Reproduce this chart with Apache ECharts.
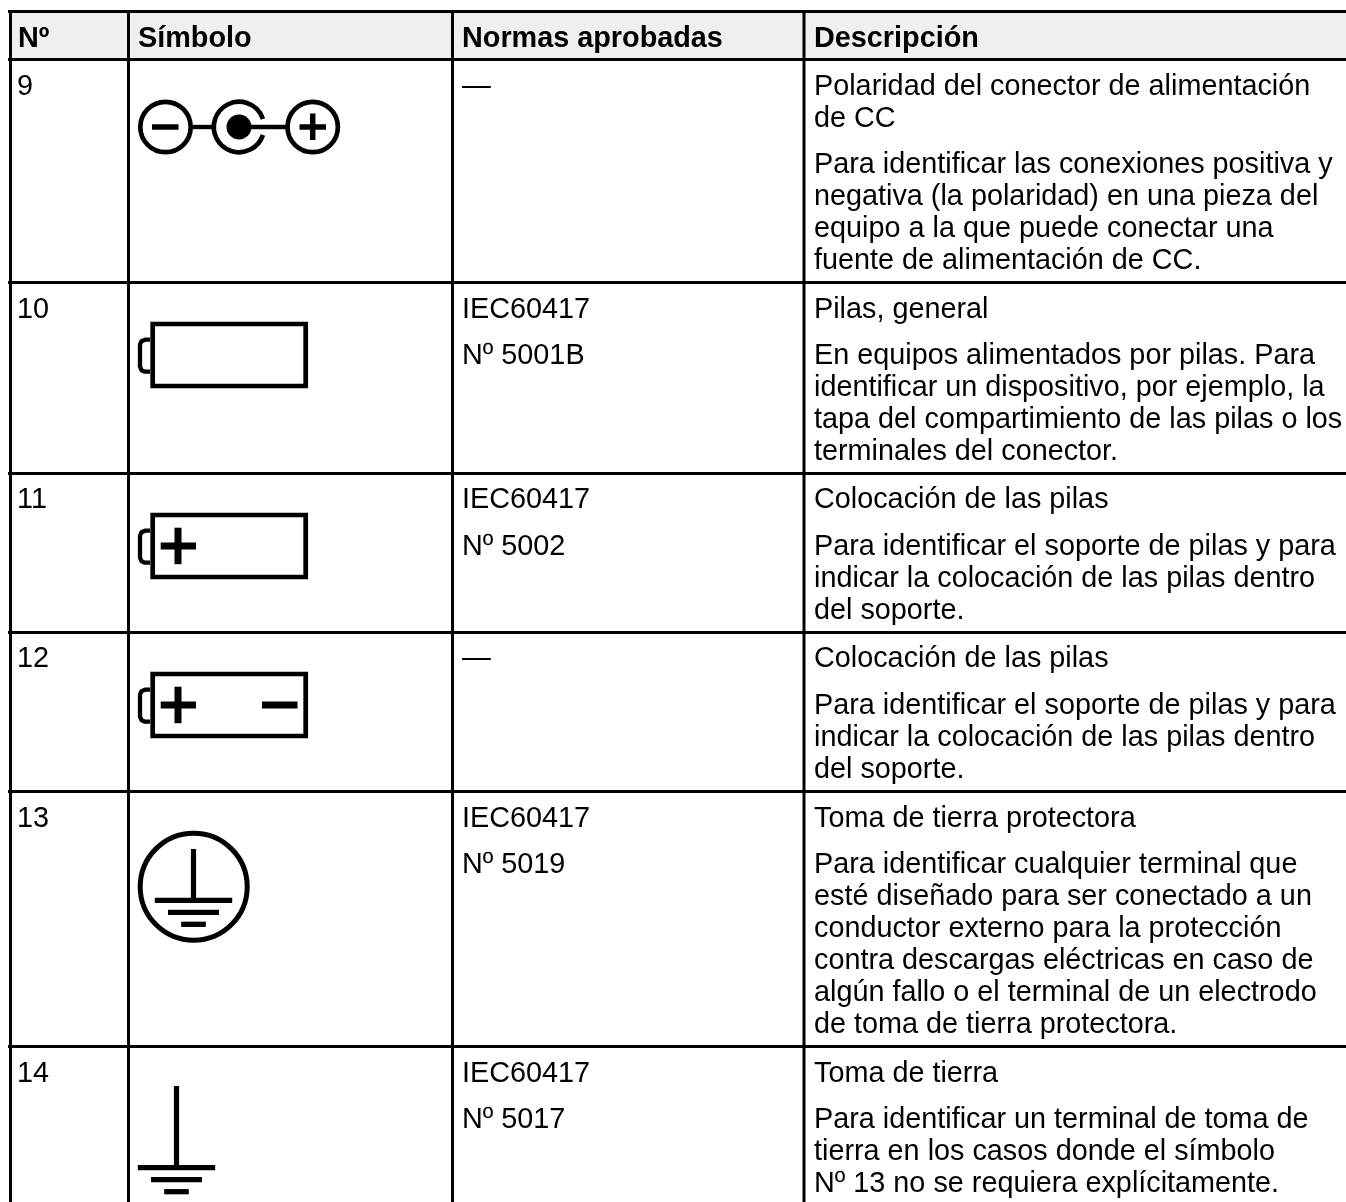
<!DOCTYPE html>
<html><head><meta charset="utf-8">
<style>html,body{margin:0;padding:0;background:#fff}#c{width:1346px;height:1202px}</style>
<script src="https://cdn.jsdelivr.net/npm/echarts@6/dist/echarts.min.js"></script></head>
<body><div id="c"></div>
<script>
const headers = ['Nº','Símbolo','Normas aprobadas','Descripción'];
const numbers = ['9','10','11','12','13','14'];
const standards = [['—'],['IEC60417','Nº 5001B'],['IEC60417','Nº 5002'],['—'],['IEC60417','Nº 5019'],['IEC60417','Nº 5017']];
const descriptions = [
 ['Polaridad del conector de alimentación','de CC','Para identificar las conexiones positiva y','negativa (la polaridad) en una pieza del','equipo a la que puede conectar una','fuente de alimentación de CC.'],
 ['Pilas, general','En equipos alimentados por pilas. Para','identificar un dispositivo, por ejemplo, la','tapa del compartimiento de las pilas o los','terminales del conector.'],
 ['Colocación de las pilas','Para identificar el soporte de pilas y para','indicar la colocación de las pilas dentro','del soporte.'],
 ['Colocación de las pilas','Para identificar el soporte de pilas y para','indicar la colocación de las pilas dentro','del soporte.'],
 ['Toma de tierra protectora','Para identificar cualquier terminal que','esté diseñado para ser conectado a un','conductor externo para la protección','contra descargas eléctricas en caso de','algún fallo o el terminal de un electrodo','de toma de tierra protectora.'],
 ['Toma de tierra','Para identificar un terminal de toma de','tierra en los casos donde el símbolo','Nº 13 no se requiera explícitamente.']
];

// layout
const W = 1346, H = 1202, FS = 28.8, FSB = 28.8, FONT = '"Liberation Sans", Arial, sans-serif';
const colX = [10.5, 128.5, 452.5, 804];
const textX = [18, 138, 462, 814];
const topY = 11.5, headY = 59.5, rowY = [282.5, 473.5, 632.5, 791.5, 1046.5];
const headBase = 46.5;
const descBase = [
 [95,127,173,205,237,269],
 [318,364,396,428,460],
 [508,555,587,619],
 [667,714,746,778],
 [827,873,905,937,969,1001,1033],
 [1082,1128,1160,1192]
];
const stdBase = [[95],[318,364],[508,555],[667],[827,873],[1082,1128]];

const g = [];
const txt = (s, x, base, bold) => g.push({type:'text', x, y: base - 7.5, silent:true, style:{
  text:s, fill:'#000', font:(bold?'bold '+FSB:FS)+'px '+FONT, textAlign:'left', verticalAlign:'middle'}});
const line = (x1,y1,x2,y2,w,cap) => g.push({type:'line', silent:true, shape:{x1,y1,x2,y2}, style:{stroke:'#000', lineWidth:w, lineCap:cap||'butt', fill:null}});
const ring = (cx,cy,r,w) => g.push({type:'circle', silent:true, shape:{cx,cy,r}, style:{stroke:'#000', lineWidth:w, fill:'none'}});

g.push({type:'rect', silent:true, shape:{x:colX[0],y:topY,width:W-colX[0],height:headY-topY}, style:{fill:'#efefef'}});
[topY,headY,...rowY].forEach(y => line(8,y,W,y,3));
colX.forEach(x => line(x,topY-1.5,x,H,3));

headers.forEach((h,i) => txt(h,textX[i],headBase,true));
numbers.forEach((n,i) => txt(n,textX[0]-1,descBase[i][0],false));
standards.forEach((a,i) => a.forEach((s,j) => txt(s,textX[2],stdBase[i][j],false)));
descriptions.forEach((a,i) => a.forEach((s,j) => txt(s,textX[3],descBase[i][j],false)));

// symbol: DC polarity
ring(165.5,127,25.2,4.7);
line(152,127,178.5,127,5.5);
line(192,127,214,127,4.4);
g.push({type:'arc', silent:true, shape:{cx:239,cy:127,r:25.2,startAngle:0.32,endAngle:Math.PI*2-0.32,clockwise:true}, style:{stroke:'#000',lineWidth:4.7,fill:'none'}});
g.push({type:'circle', silent:true, shape:{cx:239,cy:127,r:12.5}, style:{fill:'#000'}});
line(239,127,288,127,4.4);
ring(312.7,127,25.2,4.7);
line(299.5,127,326,127,5.5);
line(312.7,113.5,312.7,140,5.5);

// symbol: batteries
const battery = (top, plus, minus) => {
  g.push({type:'rect', silent:true, shape:{x:152.7,y:top+2.3,width:153,height:62}, style:{stroke:'#000',lineWidth:4.7,fill:'none'}});
  g.push({type:'polyline', silent:true, shape:{points:[[150,top+18],[145,top+18],[141.5,top+19.5],[140,top+23],[140,top+45],[141.5,top+48.5],[145,top+50],[150,top+50]]}, style:{stroke:'#000',lineWidth:4.3,fill:'none',lineJoin:'round'}});
  if (plus) { line(160.7,top+33.3,196,top+33.3,7); line(178,top+15,178,top+51.5,7); }
  if (minus) line(262,top+33.3,297.5,top+33.3,7);
};
battery(321.7,false,false);
battery(512.7,true,false);
battery(671.7,true,true);

// symbol: earth
const earth = (cx, yTop, yBar) => {
  line(cx,yTop,cx,yBar,5.2);
  line(cx-38.7,yBar,cx+38.7,yBar,5.3);
  line(cx-25.5,yBar+12,cx+25.5,yBar+12,5.3);
  line(cx-12.3,yBar+24,cx+12.3,yBar+24,5.3);
};
ring(193.7,886.7,53.5,5);
earth(193.5,849,900.3);
earth(176.5,1086,1167.7);

const chart = echarts.init(document.getElementById('c'), null, {renderer:'canvas', width:W, height:H});
chart.setOption({animation:false, backgroundColor:'#fff', graphic:{elements:g}});
</script>
</body></html>
